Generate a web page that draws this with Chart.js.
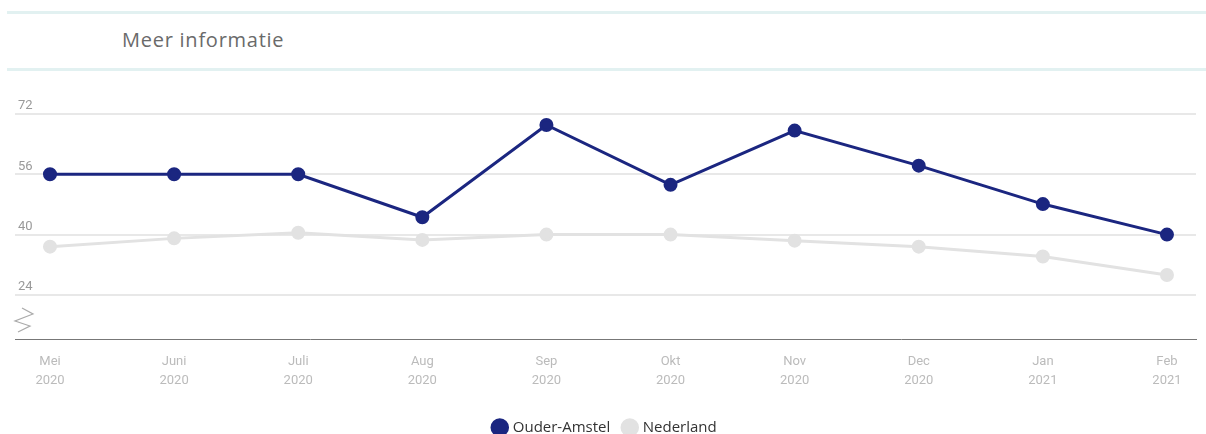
<!DOCTYPE html>
<html>
<head>
<meta charset="utf-8">
<script src="https://cdn.jsdelivr.net/npm/chart.js@4"></script>
<style>
  html, body { margin: 0; padding: 0; background: #fff; }
  #wrap { position: relative; width: 1206px; height: 434px; overflow: hidden; }
  #head {
    position: absolute; left: 7px; top: 11px; width: 1199px; height: 54px;
    border-top: 3px solid #e2f1f1; border-bottom: 3px solid #e2f1f1;
  }
  #head span {
    position: absolute; left: 115px; top: 12px;
    font-family: "Open Sans", sans-serif; font-size: 20px; color: #6a6a6a; letter-spacing: 0.75px;
  }
  canvas { position: absolute; left: 0; top: 0; }
</style>
</head>
<body>
<div id="wrap">
  <div id="head"><span>Meer informatie</span></div>
  <canvas id="chart" width="1206" height="445"></canvas>
</div>
<script>
const months = [["Mei", "2020"], ["Juni", "2020"], ["Juli", "2020"], ["Aug", "2020"], ["Sep", "2020"],
  ["Okt", "2020"], ["Nov", "2020"], ["Dec", "2020"], ["Jan", "2021"], ["Feb", "2021"]];
const ouderAmstel = [56, 56, 56, 44.6, 69.1, 53.2, 67.6, 58.3, 48.1, 40];
const nederland = [36.8, 39, 40.5, 38.6, 40, 40, 38.4, 36.8, 34.2, 29.3];
const yTicks = [24, 40, 56, 72];

const toPoints = arr => arr.map((v, i) => ({ x: i, y: v }));

// the little zigzag that marks the broken y axis
const axisBreak = {
  id: "axisBreak",
  afterDraw(c) {
    const ctx = c.ctx;
    ctx.save();
    ctx.strokeStyle = "#aaa";
    ctx.lineWidth = 1.2;
    ctx.beginPath();
    ctx.moveTo(22, 308);
    ctx.lineTo(33, 314);
    ctx.lineTo(15, 321);
    ctx.lineTo(30, 326);
    ctx.lineTo(18, 332);
    ctx.stroke();
    ctx.restore();
  }
};

chart = new Chart(document.getElementById("chart"), {
  type: "line",
  data: {
    datasets: [
      {
        label: "Ouder-Amstel",
        data: toPoints(ouderAmstel),
        borderColor: "#1b2680",
        backgroundColor: "#1b2680",
        borderWidth: 3,
        pointRadius: 5.5,
        pointHoverRadius: 6
      },
      {
        label: "Nederland",
        data: toPoints(nederland),
        borderColor: "#e2e2e2",
        backgroundColor: "#e2e2e2",
        borderWidth: 3,
        pointRadius: 5.5,
        pointHoverRadius: 6
      }
    ]
  },
  options: {
    responsive: false,
    animation: false,
    layout: { padding: { top: 114, left: 15, right: 10, bottom: 0 } },
    plugins: {
      tooltip: { enabled: false },
      legend: {
        position: "bottom",
        labels: {
          usePointStyle: true,
          pointStyle: "circle",
          boxHeight: 11,
          boxWidth: 11,
          padding: 14,
          color: "#333",
          font: { family: "'Open Sans', sans-serif", size: 15 }
        }
      }
    },
    scales: {
      x: {
        type: "linear",
        min: -0.282,
        max: 9.234,
        afterFit: s => { s.height = 67; },
        grid: { display: false },
        border: { display: true, color: "#777", width: 1 },
        ticks: {
          stepSize: 1,
          includeBounds: false,
          autoSkip: false,
          maxRotation: 0,
          padding: 5,
          color: "#bbb",
          font: { family: "Roboto, sans-serif", size: 13, lineHeight: 1.45 },
          callback: v => Number.isInteger(v) && months[v] ? months[v] : ""
        }
      },
      y: {
        min: 12.3,
        max: 72,
        afterBuildTicks: s => { s.ticks = yTicks.map(v => ({ value: v })); },
        afterFit: s => { s.width = 0; },
        grid: { color: "#e8e8e8", lineWidth: 2, drawTicks: false },
        border: { display: false },
        ticks: {
          mirror: true,
          padding: 3,
          labelOffset: -8,
          color: "#999",
          font: { family: "Roboto, sans-serif", size: 13 }
        }
      }
    }
  },
  plugins: [axisBreak]
});
</script>
</body>
</html>
